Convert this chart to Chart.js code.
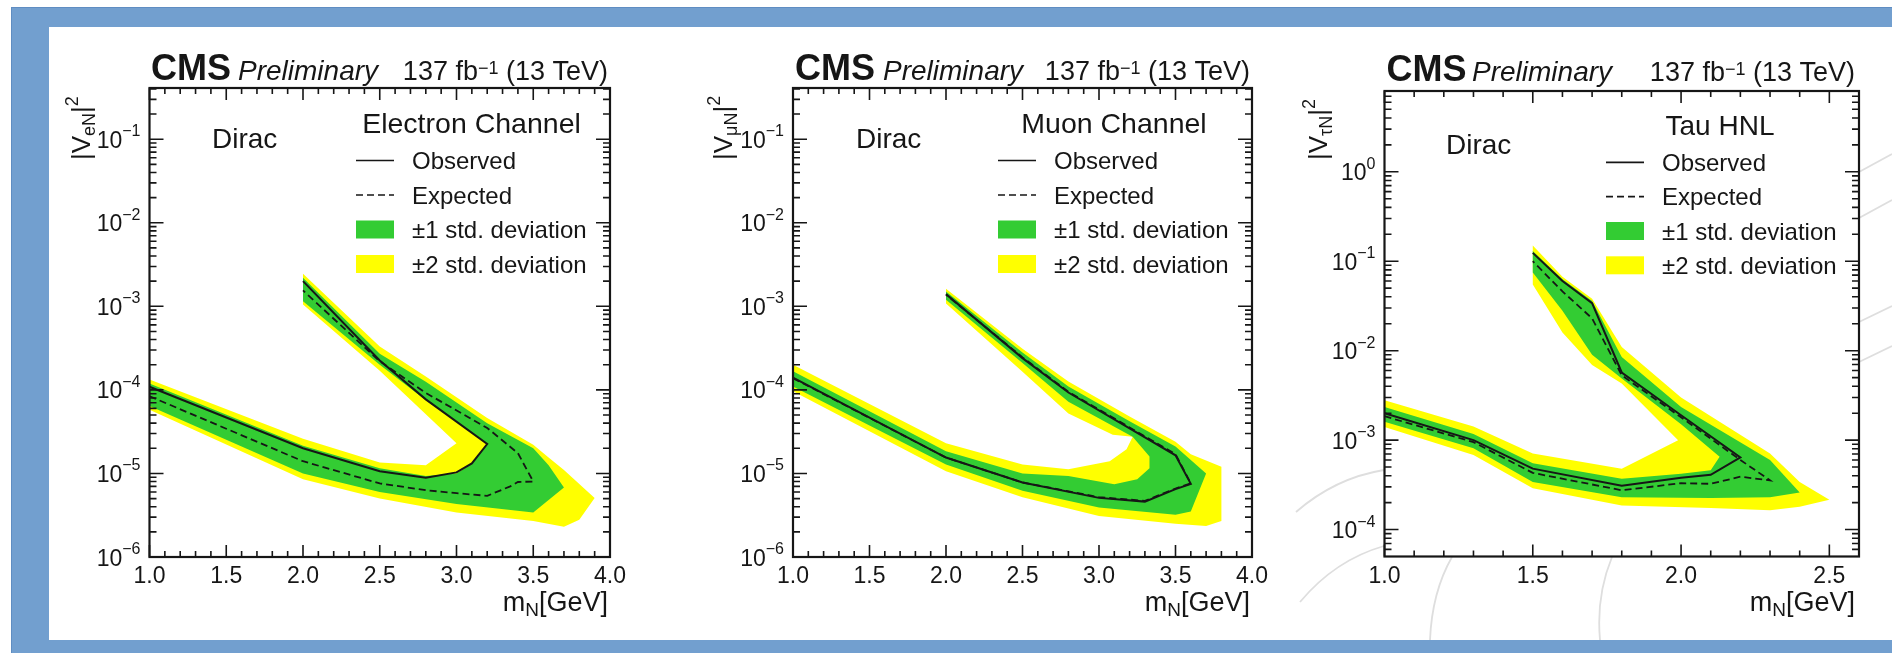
<!DOCTYPE html>
<html lang="en">
<head>
<meta charset="utf-8">
<title>Heavy neutral lepton limits</title>
<script src="https://cdn.jsdelivr.net/npm/chart.js@4.4.1/dist/chart.umd.min.js"></script>
<style>
  html, body { margin: 0; padding: 0; background: #ffffff; }
  body { position: relative; width: 1892px; height: 653px; overflow: hidden; }
  #frame { position: absolute; left: 11px; top: 7px; width: 1881px; height: 646px; background: #729fcf; box-shadow: inset 1px 1px 0 #5f8dc2; }
  #sheet { position: absolute; left: 49px; top: 27px; width: 1843px; height: 613px; background: #ffffff; }
  canvas { position: absolute; top: 27px; }
</style>
</head>
<body>
<div id="frame"></div>
<div id="sheet"></div>
<canvas id="plotE" width="585" height="613" style="left:55px"></canvas>
<canvas id="plotMu" width="600" height="613" style="left:680px"></canvas>
<canvas id="plotTau" width="610" height="613" style="left:1282px"></canvas>
<script>
// m_N [GeV] vs |V|^2 exclusion limits, one panel per channel.
// Each contour runs along the lower branch to the tip, then back along the upper branch.

const massTicksLight = [1.0, 1.5, 2.0, 2.5, 3.0, 3.5, 4.0];
const massTicksTau = [1.0, 1.5, 2.0, 2.5];
const decadesLight = [-6, -5, -4, -3, -2, -1];
const decadesTau = [-4, -3, -2, -1, 0];

// electron channel
const eObserved = [[1.0, 1.09e-4], [2.0, 2.0e-5], [2.5, 1.06e-5], [2.8, 8.9e-6], [3.0, 1.03e-5], [3.1, 1.32e-5],
  [3.2, 2.25e-5], [2.8, 7.7e-5], [2.5, 2.25e-4], [2.0, 2.0e-3]];
const eExpected = [[1.0, 8.4e-5], [2.0, 1.4e-5], [2.5, 7.6e-6], [2.8, 6.3e-6], [3.0, 5.8e-6], [3.2, 5.4e-6],
  [3.35, 7.0e-6], [3.4, 7.9e-6], [3.5, 8.0e-6], [3.4, 1.75e-5], [3.2, 3.5e-5], [2.8, 9.2e-5], [2.5, 2.2e-4], [2.0, 1.55e-3]];
const eSigma1 = [[1.0, 1.19e-4], [2.0, 2.15e-5], [2.5, 1.15e-5], [2.8, 9.3e-6], [3.0, 1.0e-5], [3.1, 1.3e-5],
  [3.2, 2.3e-5], [2.8, 7.5e-5], [2.5, 2.0e-4], [2.0, 1.15e-3], [2.0, 2.2e-3], [2.5, 2.7e-4], [2.8, 1.25e-4],
  [3.2, 4.0e-5], [3.5, 2.0e-5], [3.6, 1.25e-5], [3.7, 6.8e-6], [3.5, 3.4e-6], [3.0, 4.3e-6], [2.5, 6.0e-6],
  [2.0, 1.0e-5], [1.0, 6.4e-5]];
const eSigma2 = [[1.0, 1.33e-4], [2.0, 2.6e-5], [2.5, 1.35e-5], [2.8, 1.25e-5], [3.0, 2.3e-5], [2.5, 1.7e-4],
  [2.0, 1.05e-3], [2.0, 2.45e-3], [2.5, 3.3e-4], [2.8, 1.45e-4], [3.2, 4.6e-5], [3.5, 2.2e-5], [3.6, 1.55e-5],
  [3.7, 1.1e-5], [3.9, 5.1e-6], [3.8, 2.8e-6], [3.7, 2.3e-6], [3.5, 2.7e-6], [3.0, 3.4e-6], [2.5, 5.0e-6],
  [2.0, 8.5e-6], [1.0, 5.8e-5]];

// muon channel
const muObserved = [[1.0, 1.4e-4], [2.0, 1.55e-5], [2.5, 7.8e-6], [3.0, 5.1e-6], [3.3, 4.6e-6], [3.5, 6.5e-6],
  [3.6, 7.5e-6], [3.5, 1.65e-5], [2.8, 9.3e-5], [2.5, 2.4e-4], [2.0, 1.4e-3]];
const muExpected = [[1.0, 1.38e-4], [2.0, 1.55e-5], [2.5, 7.8e-6], [3.0, 5.2e-6], [3.3, 4.7e-6], [3.5, 6.6e-6],
  [3.6, 7.6e-6], [3.5, 1.7e-5], [2.8, 9.5e-5], [2.5, 2.45e-4], [2.0, 1.38e-3]];
const muSigma1 = [[1.0, 1.67e-4], [2.0, 1.84e-5], [2.5, 1.0e-5], [2.8, 9.3e-6], [3.1, 7.4e-6], [3.25, 8.5e-6],
  [3.33, 1.15e-5], [3.33, 1.6e-5], [3.22, 2.75e-5], [2.8, 7.2e-5], [2.5, 2.1e-4], [2.0, 1.2e-3], [2.0, 1.5e-3],
  [2.5, 2.8e-4], [2.8, 1.1e-4], [3.2, 4.2e-5], [3.5, 2.1e-5], [3.7, 1.0e-5], [3.6, 3.5e-6], [3.5, 3.2e-6],
  [3.0, 3.9e-6], [2.5, 6.2e-6], [2.0, 1.28e-5], [1.0, 1.1e-4]];
const muSigma2 = [[1.0, 2.0e-4], [2.0, 2.3e-5], [2.5, 1.28e-5], [2.8, 1.12e-5], [3.07, 1.4e-5], [3.18, 1.95e-5],
  [3.22, 2.75e-5], [3.09, 2.9e-5], [2.8, 5.2e-5], [2.5, 1.65e-4], [2.0, 1.08e-3], [2.0, 1.62e-3], [2.5, 3.1e-4],
  [2.8, 1.26e-4], [3.2, 4.8e-5], [3.5, 2.4e-5], [3.6, 1.7e-5], [3.8, 1.2e-5], [3.8, 2.7e-6], [3.7, 2.35e-6],
  [3.5, 2.5e-6], [3.0, 3.1e-6], [2.5, 5.2e-6], [2.0, 1.06e-5], [1.0, 9.6e-5]];

// tau HNL
const tauObserved = [[1.0, 2.0e-3], [1.3, 1.0e-3], [1.5, 4.8e-4], [1.8, 3.1e-4], [2.0, 3.8e-4], [2.1, 4.1e-4],
  [2.2, 6.4e-4], [2.0, 1.9e-3], [1.8, 5.7e-3], [1.7, 3.4e-2], [1.6, 6.0e-2], [1.5, 0.124]];
const tauExpected = [[1.0, 1.85e-3], [1.3, 9.5e-4], [1.5, 4.3e-4], [1.8, 2.75e-4], [2.0, 3.3e-4], [2.1, 3.25e-4],
  [2.2, 3.9e-4], [2.3, 3.55e-4], [2.2, 6.0e-4], [2.0, 1.8e-3], [1.8, 5.3e-3], [1.7, 2.3e-2], [1.6, 4.6e-2], [1.5, 0.1]];
const tauSigma1 = [[1.0, 2.35e-3], [1.3, 1.17e-3], [1.5, 5.5e-4], [1.8, 3.7e-4], [2.0, 4.2e-4], [2.1, 4.6e-4],
  [2.13, 6.5e-4], [2.0, 1.5e-3], [1.8, 4.9e-3], [1.7, 9.0e-3], [1.6, 2.8e-2], [1.5, 7.5e-2], [1.5, 0.13],
  [1.6, 6.3e-2], [1.7, 3.6e-2], [1.8, 8.5e-3], [2.0, 2.35e-3], [2.3, 6.0e-4], [2.4, 2.6e-4], [2.3, 2.3e-4],
  [2.1, 2.25e-4], [1.8, 2.3e-4], [1.5, 3.4e-4], [1.3, 8.1e-4], [1.0, 1.6e-3]];
const tauSigma2 = [[1.0, 2.8e-3], [1.3, 1.42e-3], [1.5, 7.1e-4], [1.8, 4.8e-4], [1.99, 1.0e-3], [1.8, 4.3e-3],
  [1.7, 6.9e-3], [1.6, 1.6e-2], [1.5, 5.5e-2], [1.5, 0.15], [1.6, 6.7e-2], [1.7, 3.8e-2], [1.8, 1.1e-2],
  [2.0, 3.0e-3], [2.3, 7.1e-4], [2.4, 3.4e-4], [2.5, 2.15e-4], [2.4, 1.8e-4], [2.3, 1.64e-4], [2.1, 1.74e-4],
  [1.8, 1.86e-4], [1.5, 2.9e-4], [1.3, 6.8e-4], [1.0, 1.4e-3]];

const INK = '#161616';
const GREEN = '#33cc33';
const YELLOW = '#ffff00';
const FONT = '"Liberation Sans", Arial, Helvetica, sans-serif';

// faint logo strokes behind the tau panel (page coordinates)
const tauWatermark = [
  [[1296, 512], [1335, 478], [1384, 470]],
  [[1300, 602], [1335, 560], [1384, 546]],
  [[1430, 640], [1432, 592], [1452, 557]],
  [[1600, 640], [1596, 596], [1612, 557]],
  [[1859, 172], [1892, 154]],
  [[1859, 218], [1892, 200]],
  [[1859, 322], [1892, 306]],
  [[1859, 362], [1892, 346]]
];

const panels = [
  {
    canvas: 'plotE', origin: [55, 27], channel: 'Electron Channel', lepton: 'e',
    xMin: 1.0, xMax: 4.0, yMin: 1e-6, yMax: 0.41, xTicks: massTicksLight, decades: decadesLight,
    observed: eObserved, expected: eExpected, sigma1: eSigma1, sigma2: eSigma2,
    pad: { left: 94.5, right: 30, top: 61, bottom: 83 },
    head: { base: -8, cms: 1.5, prelim: 88.5, lumi: -2 },
    dirac: [62.5, 59.5], title: { x: 322, base: 45, size: 28.5 },
    legend: { sym: 206.5, text: 262.5, rows: [72.5, 107, 141.5, 176] },
    yTitle: { x: -59.5, y: 72 }, xTitle: { right: -2, base: 54 }
  },
  {
    canvas: 'plotMu', origin: [680, 27], channel: 'Muon Channel', lepton: '\u03bc',
    xMin: 1.0, xMax: 4.0, yMin: 1e-6, yMax: 0.41, xTicks: massTicksLight, decades: decadesLight,
    observed: muObserved, expected: muExpected, sigma1: muSigma1, sigma2: muSigma2,
    pad: { left: 113, right: 28, top: 61, bottom: 83 },
    head: { base: -8, cms: 2, prelim: 90, lumi: -2 },
    dirac: [63, 59.5], title: { x: 321, base: 45, size: 28.5 },
    legend: { sym: 205, text: 261, rows: [72.5, 107, 141.5, 176] },
    yTitle: { x: -61, y: 72 }, xTitle: { right: -2, base: 54 }
  },
  {
    canvas: 'plotTau', origin: [1282, 27], channel: 'Tau HNL', lepton: '\u03c4',
    xMin: 1.0, xMax: 2.6, yMin: 5e-5, yMax: 8, xTicks: massTicksTau, decades: decadesTau,
    observed: tauObserved, expected: tauExpected, sigma1: tauSigma1, sigma2: tauSigma2,
    pad: { left: 102.5, right: 33, top: 64, bottom: 83.5 },
    head: { base: -10, cms: 2, prelim: 87.5, lumi: -4 },
    dirac: [61.5, 63], title: { x: 335.5, base: 44, size: 28 },
    legend: { sym: 221.5, text: 277.5, rows: [71.4, 105.6, 140, 174.3] },
    yTitle: { x: -57.5, y: 69 }, xTitle: { right: -4, base: 54.5 },
    watermark: tauWatermark
  }
];

function fontOf(r) {
  return `${r.style || 'normal'} ${r.weight || 'normal'} ${r.size}px ${FONT}`;
}

function runsWidth(ctx, runs) {
  let w = 0;
  for (const r of runs) { ctx.font = fontOf(r); w += ctx.measureText(r.t).width; }
  return w;
}

// draws a row of text pieces (sub/superscripts via dy) on one baseline
function drawRuns(ctx, runs, x, y, align) {
  const w = runsWidth(ctx, runs);
  let cx = align === 'right' ? x - w : align === 'center' ? x - w / 2 : x;
  ctx.textAlign = 'left';
  ctx.textBaseline = 'alphabetic';
  ctx.fillStyle = INK;
  for (const r of runs) {
    ctx.font = fontOf(r);
    ctx.fillText(r.t, cx, y + (r.dy || 0));
    cx += ctx.measureText(r.t).width;
  }
}

function minorLogTicks(lo, hi) {
  const out = [];
  for (let d = Math.floor(Math.log10(lo)); d <= Math.ceil(Math.log10(hi)); d++) {
    for (let k = 2; k <= 9; k++) {
      const v = k * Math.pow(10, d);
      if (v > lo && v < hi) out.push(v);
    }
  }
  return out;
}

function drawWatermark(chart, p) {
  const { ctx, chartArea: a } = chart;
  const [ox, oy] = p.origin;
  ctx.save();
  ctx.strokeStyle = '#dedede';
  ctx.lineWidth = 1.8;
  for (const s of p.watermark) {
    ctx.beginPath();
    ctx.moveTo(s[0][0] - ox, s[0][1] - oy);
    if (s.length === 3) ctx.quadraticCurveTo(s[1][0] - ox, s[1][1] - oy, s[2][0] - ox, s[2][1] - oy);
    else ctx.lineTo(s[1][0] - ox, s[1][1] - oy);
    ctx.stroke();
  }
  ctx.fillStyle = '#ffffff';
  ctx.fillRect(a.left, a.top, a.right - a.left, a.bottom - a.top);
  ctx.restore();
}

function drawFrame(ctx, a, xs, ys, p) {
  ctx.strokeStyle = INK;
  ctx.lineWidth = 1.6;
  ctx.beginPath();
  // x axis ticks, bottom and top, pointing inward
  const steps = Math.round((p.xMax - p.xMin) / 0.1);
  for (let i = 0; i <= steps; i++) {
    const v = p.xMin + i * 0.1;
    const major = Math.abs(v * 2 - Math.round(v * 2)) < 1e-6;
    const len = major ? 12 : 6;
    const px = xs.getPixelForValue(v);
    ctx.moveTo(px, a.bottom); ctx.lineTo(px, a.bottom - len);
    ctx.moveTo(px, a.top); ctx.lineTo(px, a.top + len);
  }
  // log y ticks, left and right
  const ticks = p.decades.map(d => [Math.pow(10, d), 14])
    .concat(minorLogTicks(p.yMin, p.yMax).map(v => [v, 7]));
  for (const [v, len] of ticks) {
    const py = ys.getPixelForValue(v);
    ctx.moveTo(a.left, py); ctx.lineTo(a.left + len, py);
    ctx.moveTo(a.right, py); ctx.lineTo(a.right - len, py);
  }
  ctx.stroke();
  ctx.lineWidth = 2.2;
  ctx.strokeRect(a.left, a.top, a.right - a.left, a.bottom - a.top);
}

function drawLabels(ctx, a, xs, ys, p) {
  for (const v of p.xTicks) {
    drawRuns(ctx, [{ t: v.toFixed(1), size: 23 }], xs.getPixelForValue(v), a.bottom + 26, 'center');
  }
  for (const d of p.decades) {
    const py = ys.getPixelForValue(Math.pow(10, d));
    const sup = d < 0 ? '\u2212' + (-d) : String(d);
    drawRuns(ctx, [{ t: '10', size: 23 }, { t: sup, size: 16, dy: -11.5 }], a.left - 9, py + 8.5, 'right');
  }
  // axis titles
  drawRuns(ctx, [{ t: 'm', size: 27 }, { t: 'N', size: 19, dy: 5 }, { t: '[GeV]', size: 27 }],
    a.right + p.xTitle.right, a.bottom + p.xTitle.base, 'right');
  ctx.save();
  ctx.translate(a.left + p.yTitle.x, a.top + p.yTitle.y);
  ctx.rotate(-Math.PI / 2);
  drawRuns(ctx, [{ t: '|V', size: 26 }, { t: p.lepton + 'N', size: 18, dy: 5 }, { t: '|', size: 26 },
    { t: '2', size: 18, dy: -12 }], 0, 0, 'left');
  ctx.restore();
  // header line
  const hy = a.top + p.head.base;
  drawRuns(ctx, [{ t: 'CMS', size: 36, weight: 'bold' }], a.left + p.head.cms, hy, 'left');
  drawRuns(ctx, [{ t: 'Preliminary', size: 28, style: 'italic' }], a.left + p.head.prelim, hy, 'left');
  drawRuns(ctx, [{ t: '137 fb', size: 27 }, { t: '\u22121', size: 18, dy: -6.5 }, { t: ' (13 TeV)', size: 27 }],
    a.right + p.head.lumi, hy, 'right');
  // in-frame captions
  drawRuns(ctx, [{ t: 'Dirac', size: 28 }], a.left + p.dirac[0], a.top + p.dirac[1], 'left');
  drawRuns(ctx, [{ t: p.channel, size: p.title.size }], a.left + p.title.x, a.top + p.title.base, 'center');
}

function drawLegend(ctx, a, chart, p) {
  const L = p.legend;
  const x0 = a.left + L.sym;
  chart.data.datasets.forEach((ds, i) => {
    const y = a.top + L.rows[i];
    if (ds.fill) {
      ctx.fillStyle = ds.backgroundColor;
      ctx.fillRect(x0, y - 9, 38, 18);
    } else {
      ctx.save();
      ctx.strokeStyle = ds.borderColor;
      ctx.lineWidth = 1.6;
      ctx.setLineDash(ds.borderDash || []);
      ctx.beginPath();
      ctx.moveTo(x0, y); ctx.lineTo(x0 + 38, y);
      ctx.stroke();
      ctx.restore();
    }
    drawRuns(ctx, [{ t: ds.label, size: 24 }], a.left + L.text, y + 8.5, 'left');
  });
}

function makeDecor(p) {
  return {
    id: 'rootDecor',
    beforeDraw(chart) {
      if (p.watermark) drawWatermark(chart, p);
    },
    afterDatasetsDraw(chart) {
      const { ctx, chartArea: a } = chart;
      ctx.save();
      drawFrame(ctx, a, chart.scales.x, chart.scales.y, p);
      drawLabels(ctx, a, chart.scales.x, chart.scales.y, p);
      drawLegend(ctx, a, chart, p);
      ctx.restore();
    }
  };
}

const toXY = pts => pts.map(([x, y]) => ({ x, y }));

for (const p of panels) {
  new Chart(document.getElementById(p.canvas), {
    type: 'line',
    data: {
      datasets: [
        { label: 'Observed', data: toXY(p.observed), borderColor: INK, borderWidth: 2, fill: false },
        { label: 'Expected', data: toXY(p.expected), borderColor: INK, borderWidth: 1.8, borderDash: [7, 4], fill: false },
        { label: '\u00b11 std. deviation', data: toXY(p.sigma1), borderColor: 'rgba(0,0,0,0)', borderWidth: 0,
          backgroundColor: GREEN, fill: 'shape' },
        { label: '\u00b12 std. deviation', data: toXY(p.sigma2), borderColor: 'rgba(0,0,0,0)', borderWidth: 0,
          backgroundColor: YELLOW, fill: 'shape' }
      ]
    },
    options: {
      responsive: false,
      animation: false,
      devicePixelRatio: 1,
      layout: { padding: p.pad },
      elements: { point: { radius: 0 }, line: { tension: 0 } },
      scales: {
        x: { type: 'linear', min: p.xMin, max: p.xMax, display: false },
        y: { type: 'logarithmic', min: p.yMin, max: p.yMax, display: false }
      },
      plugins: { legend: { display: false }, tooltip: { enabled: false } }
    },
    plugins: [makeDecor(p)]
  });
}
</script>
</body>
</html>
